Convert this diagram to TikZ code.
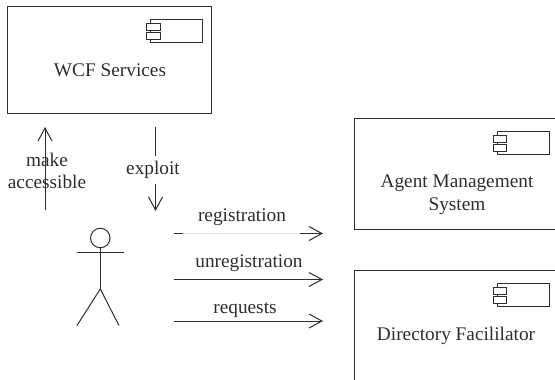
\documentclass[tikz,border=0pt]{standalone}
\usepackage{fontspec}
\setmainfont{Liberation Serif}
\usetikzlibrary{arrows.meta}
\definecolor{ink}{HTML}{2E2E2E}
\tikzset{
  x=1pt,y=-1pt,
  every node/.style={inner sep=0pt,outer sep=0pt,text=ink,font=\fontsize{19.3}{22.5}\selectfont},
  boxshape/.style={draw=ink,line width=1pt,rectangle,anchor=north west},
  iconmain/.style={draw=ink,line width=1pt,rectangle,anchor=north west,fill=white},
  conn/.style={draw=ink,line width=1pt,-{Straight Barb[length=13pt,width=14pt,line width=1pt]}},
  plain/.style={draw=ink,line width=1pt},
  label/.style={align=center,anchor=center},
  actorline/.style={draw=ink,line width=1pt}
}
\newcommand{\compicon}[3]{%
  \node[iconmain,minimum width=52pt,minimum height=23pt] (#1m) at (#2+4,#3) {};
  \node[iconmain,minimum width=13.5pt,minimum height=7pt] (#1a) at (#2,#3+4) {};
  \node[iconmain,minimum width=13.5pt,minimum height=7pt] (#1b) at (#2,#3+13) {};
}
\begin{document}
\begin{tikzpicture}
\useasboundingbox (0,0) rectangle (555,380);
\clip (0,0) rectangle (555,380);
\fill[white] (0,0) rectangle (555,380);
% boxes
\node[boxshape,minimum width=203.5pt,minimum height=106.5pt] (wcf) at (7.5,6.5) {};
\node[boxshape,minimum width=230pt,minimum height=111pt] (ams) at (354.5,118) {};
\node[boxshape,minimum width=230pt,minimum height=140pt] (df) at (354.5,270) {};
\compicon{wi}{146.5}{19.5}
\compicon{ai}{493}{131.5}
\compicon{di}{493}{283.5}
\node[label] (wcft) at (110,70.5) {WCF Services};
\node[label] (amst) at (457,194.5) {Agent Management\\System};
\node[label] (dft) at (456,336) {Directory Facililator};
% up / down arrows
\coordinate (upa) at (45,210);
\coordinate (upb) at (45,127);
\draw[conn] (upa) -- (upb);
\node[label] (mk) at (47,171) {make\\accessible};
\coordinate (dna) at (155.5,127);
\coordinate (dnb) at (155.5,211);
\draw[conn] (dna) -- (dnb);
\node[label,fill=white,inner ysep=5pt,inner xsep=2pt] (ex) at (153,170) {exploit};
% actor
\node[draw=ink,line width=1pt,circle,minimum size=19.5pt] (head) at (100.3,238) {};
\coordinate (neck) at (100.3,247.8);
\coordinate (hip) at (100.3,289);
\coordinate (handl) at (77,252);
\coordinate (handr) at (123.5,252);
\coordinate (footl) at (77,325.5);
\coordinate (footr) at (119,325.5);
\draw[actorline] (head.south) -- (hip);
\draw[actorline] (handl) -- (handr);
\draw[actorline] (footl) -- (hip) -- (footr);
% right arrows
\coordinate (r1a) at (174,233.5); \coordinate (r1m) at (183,233.5);
\coordinate (r1n) at (300,233.5); \coordinate (r1b) at (323,233.5);
\coordinate (r2a) at (174,279.5); \coordinate (r2b) at (323,279.5);
\coordinate (r3a) at (174,321);   \coordinate (r3b) at (323,321);
\draw[plain] (r1a) -- (r1m);
\draw[draw=black!12,line width=1pt] (r1m) -- (r1n);
\draw[conn] (r1n) -- (r1b);
\draw[conn] (r2a) -- (r2b);
\draw[conn] (r3a) -- (r3b);
\node[label] (reg) at (242,217) {registration};
\node[label] (unr) at (249,263) {unregistration};
\node[label] (req) at (245,310) {requests};
\end{tikzpicture}
\end{document}
